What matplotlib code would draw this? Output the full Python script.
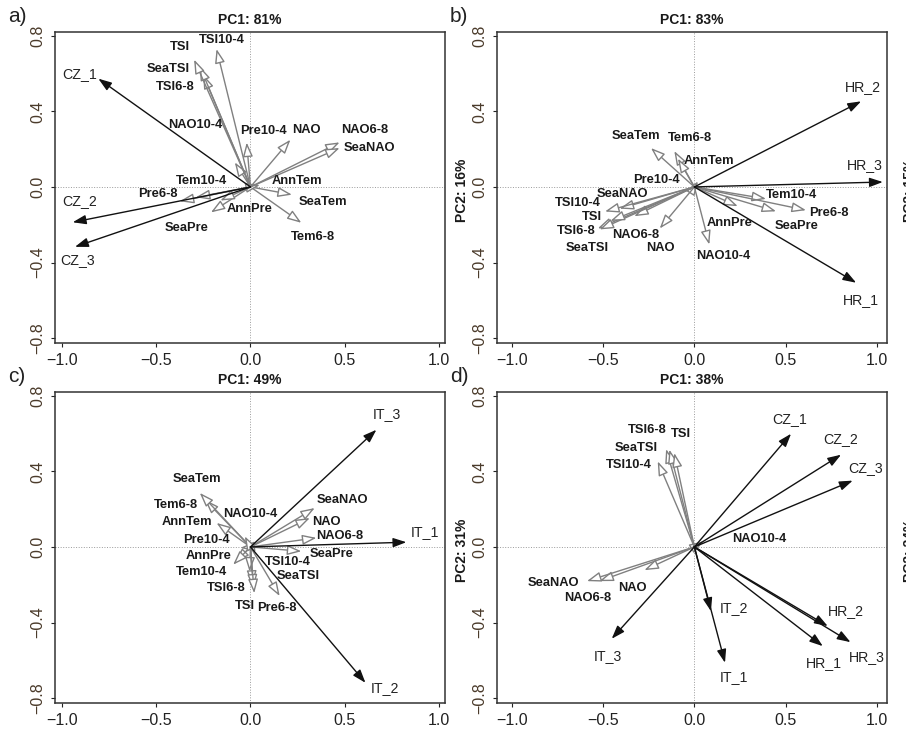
import numpy as np
import matplotlib
matplotlib.use('Agg')
import matplotlib.pyplot as plt
from matplotlib import font_manager

# fuentes: Arial estrecha si existe
nombres = set(f.name for f in font_manager.fontManager.ttflist)
if 'Liberation Sans Narrow' in nombres:
    ETIQ = 'Liberation Sans Narrow'
    esc = 1.0
else:
    ETIQ = 'Liberation Sans'
    esc = 0.88
plt.rcParams['font.family'] = ['Liberation Sans', 'DejaVu Sans']

"""
Datos: cargas de los ejes (PC1, PC2) para cada panel
"""

# panel a) CZ
a_exp = ['Tem10-4', 'Tem6-8', 'SeaTem', 'AnnTem', 'Pre10-4', 'Pre6-8', 'SeaPre', 'AnnPre',
         'NAO10-4', 'NAO6-8', 'SeaNAO', 'NAO', 'TSI10-4', 'TSI6-8', 'SeaTSI', 'TSI']
a_exp_x = [-0.29, 0.27, 0.22, 0.05, -0.02, -0.375, -0.21, -0.16,
           -0.083, 0.473, 0.473, 0.212, -0.18, -0.251, -0.269, -0.299]
a_exp_y = [-0.055, -0.19, -0.041, 0.01, 0.235, -0.076, -0.135, -0.072,
           0.13, 0.236, 0.206, 0.25, 0.73, 0.594, 0.638, 0.674]
a_resp = ['CZ_1', 'CZ_2', 'CZ_3']
a_resp_x = [-0.807, -0.943, -0.931]
a_resp_y = [0.573, -0.187, -0.317]

# panel b) HR
b_exp = a_exp
b_exp_x = [0.393, -0.11, -0.238, -0.09, 0.02, 0.612, 0.448, 0.238,
           0.082, -0.33, -0.41, -0.19, -0.49, -0.53, -0.52, -0.46]
b_exp_y = [-0.063, 0.19, 0.206, 0.15, 0.03, -0.123, -0.129, -0.102,
           -0.305, -0.155, -0.115, -0.22, -0.13, -0.22, -0.225, -0.18]
b_resp = ['HR_1', 'HR_2', 'HR_3']
b_resp_x = [0.887, 0.914, 1.033]
b_resp_y = [-0.507, 0.453, 0.026]

# panel c) IT
c_exp = a_exp
c_exp_x = [-0.08, -0.242, -0.269, -0.18, -0.053, 0.155, 0.27, -0.092,
           -0.03, 0.35, 0.341, 0.315, -0.005, 0.01, 0.015, 0.02]
c_exp_y = [-0.08, 0.25, 0.286, 0.127, -0.005, -0.26, -0.023, -0.094,
           0.056, 0.048, 0.206, 0.153, -0.13, -0.2, -0.22, -0.245]
c_resp = ['IT_1', 'IT_2', 'IT_3']
c_resp_x = [0.827, 0.61, 0.668]
c_resp_y = [0.025, -0.719, 0.62]

# panel d) todos
d_exp = ['NAO10-4', 'NAO6-8', 'SeaNAO', 'NAO', 'TSI10-4', 'TSI6-8', 'SeaTSI', 'TSI']
d_exp_x = [0.05, -0.521, -0.589, -0.274, -0.201, -0.155, -0.137, -0.11]
d_exp_y = [0.03, -0.181, -0.181, -0.123, 0.453, 0.518, 0.515, 0.497]
d_resp = ['CZ_1', 'CZ_2', 'CZ_3', 'HR_1', 'HR_2', 'HR_3', 'IT_1', 'IT_2', 'IT_3']
d_resp_x = [0.53, 0.804, 0.868, 0.704, 0.731, 0.856, 0.168, 0.091, -0.453]
d_resp_y = [0.599, 0.488, 0.351, -0.525, -0.419, -0.504, -0.613, -0.34, -0.486]

pc1 = ['PC1: 81%', 'PC1: 83%', 'PC1: 49%', 'PC1: 38%']
pc2 = [None, 'PC2: 16%', None, 'PC2: 31%']
pc2_cortado = [None, 'PC2: 15%', None, 'PC2: 24%']
letras = ['a)', 'b)', 'c)', 'd)']

# posiciones de las etiquetas (colocación manual)
pos_a = {'Tem10-4': (-0.26, 0.034), 'Tem6-8': (0.332, -0.265), 'SeaTem': (0.385, -0.079),
         'AnnTem': (0.244, 0.03), 'Pre10-4': (0.067, 0.294), 'Pre6-8': (-0.489, -0.035),
         'SeaPre': (-0.339, -0.217), 'AnnPre': (-0.007, -0.116), 'NAO10-4': (-0.295, 0.33),
         'NAO6-8': (0.606, 0.303), 'SeaNAO': (0.633, 0.206), 'NAO': (0.297, 0.303),
         'TSI10-4': (-0.154, 0.776), 'TSI6-8': (-0.401, 0.529), 'SeaTSI': (-0.436, 0.624),
         'TSI': (-0.375, 0.739),
         'CZ_1': (-0.905, 0.6), 'CZ_2': (-0.905, -0.076), 'CZ_3': (-0.919, -0.388)}
pos_b = {'Tem10-4': (0.53, -0.041), 'Tem6-8': (-0.024, 0.259), 'SeaTem': (-0.32, 0.271),
         'AnnTem': (0.082, 0.139), 'Pre10-4': (-0.21, 0.039), 'Pre6-8': (0.74, -0.137),
         'SeaPre': (0.558, -0.208), 'AnnPre': (0.192, -0.19), 'NAO10-4': (0.161, -0.367),
         'NAO6-8': (-0.32, -0.252), 'SeaNAO': (-0.393, -0.035), 'NAO': (-0.186, -0.322),
         'TSI10-4': (-0.64, -0.085), 'TSI6-8': (-0.649, -0.234), 'SeaTSI': (-0.585, -0.322),
         'TSI': (-0.561, -0.159),
         'HR_1': (0.914, -0.596), 'HR_2': (0.923, 0.529), 'HR_3': (0.932, 0.118)}
pos_c = {'Tem10-4': (-0.26, -0.134), 'Tem6-8': (-0.398, 0.224), 'SeaTem': (-0.283, 0.359),
         'AnnTem': (-0.339, 0.13), 'Pre10-4': (-0.233, 0.039), 'Pre6-8': (0.138, -0.322),
         'SeaPre': (0.429, -0.035), 'AnnPre': (-0.224, -0.049), 'NAO10-4': (0.0, 0.174),
         'NAO6-8': (0.473, 0.06), 'SeaNAO': (0.488, 0.247), 'NAO': (0.403, 0.13),
         'TSI10-4': (0.2, -0.081), 'TSI6-8': (-0.131, -0.218), 'SeaTSI': (0.253, -0.155),
         'TSI': (-0.03, -0.31),
         'IT_1': (0.924, 0.078), 'IT_2': (0.712, -0.745), 'IT_3': (0.721, 0.703)}
pos_d = {'NAO10-4': (0.356, 0.042), 'NAO6-8': (-0.585, -0.27), 'SeaNAO': (-0.771, -0.19),
         'NAO': (-0.338, -0.217), 'TSI10-4': (-0.362, 0.435), 'TSI6-8': (-0.256, 0.617),
         'SeaTSI': (-0.32, 0.523), 'TSI': (-0.073, 0.599),
         'CZ_1': (0.521, 0.677), 'CZ_2': (0.804, 0.571), 'CZ_3': (0.941, 0.418),
         'HR_1': (0.709, -0.613), 'HR_2': (0.832, -0.34), 'HR_3': (0.947, -0.581),
         'IT_1': (0.219, -0.687), 'IT_2': (0.219, -0.322), 'IT_3': (-0.475, -0.578)}

paneles = [
    (a_exp, a_exp_x, a_exp_y, a_resp, a_resp_x, a_resp_y, pos_a),
    (b_exp, b_exp_x, b_exp_y, b_resp, b_resp_x, b_resp_y, pos_b),
    (c_exp, c_exp_x, c_exp_y, c_resp, c_resp_x, c_resp_y, pos_c),
    (d_exp, d_exp_x, d_exp_y, d_resp, d_resp_x, d_resp_y, pos_d),
]

W, H = 906, 729
fig = plt.figure(figsize=(W/100, H/100), dpi=100)

# cajas en pixeles: (izq, der, arriba, abajo)
cajas = [(55, 445, 32, 343), (497, 887, 32, 343), (55, 445, 392, 703), (497, 887, 392, 703)]
xlims = [(-1.037, 1.032), (-1.082, 1.056), (-1.037, 1.032), (-1.082, 1.056)]
ylim = (-0.826, 0.82)

gris = '#808080'
col_tick_y = '#4a3a2a'

for k in range(4):
    iz, de, ar, ab = cajas[k]
    ax = fig.add_axes([iz/W, (H-ab)/H, (de-iz)/W, (ab-ar)/H])
    ax.set_xlim(*xlims[k])
    ax.set_ylim(*ylim)
    ax.axhline(0, color='#9a9a9a', lw=0.7, ls=':', zorder=0)
    ax.axvline(0, color='#9a9a9a', lw=0.7, ls=':', zorder=0)

    exp, ex, ey, resp, rx, ry, pos = paneles[k]
    for i in range(len(exp)):
        ax.annotate('', xy=(ex[i], ey[i]), xytext=(0, 0),
                    arrowprops=dict(arrowstyle='-|>,head_length=0.85,head_width=0.3',
                                    mutation_scale=10, lw=1.0, edgecolor=gris,
                                    facecolor='white', shrinkA=0, shrinkB=0), zorder=2)
        lx, ly = pos[exp[i]]
        ax.text(lx, ly, exp[i], family=[ETIQ, 'DejaVu Sans'], fontweight='bold',
                fontsize=10.5*esc, color='#1a1a1a', ha='center', va='center', zorder=4)
    for i in range(len(resp)):
        ax.annotate('', xy=(rx[i], ry[i]), xytext=(0, 0),
                    arrowprops=dict(arrowstyle='-|>,head_length=0.8,head_width=0.28',
                                    mutation_scale=10, lw=1.0, color='#111111',
                                    shrinkA=0, shrinkB=0), zorder=3)
        lx, ly = pos[resp[i]]
        ax.text(lx, ly, resp[i], family=[ETIQ, 'DejaVu Sans'], fontsize=11.6*esc,
                color='#222222', ha='center', va='center', zorder=4)

    ax.set_xticks([-1.0, -0.5, 0.0, 0.5, 1.0])
    ax.set_yticks([-0.8, -0.4, 0.0, 0.4, 0.8])
    ax.set_xticklabels(['\u22121.0', '\u22120.5', '0.0', '0.5', '1.0'])
    ax.set_yticklabels(['\u22120.8', '\u22120.4', '0.0', '0.4', '0.8'],
                       rotation=90, va='center')
    ax.tick_params(axis='x', length=3, width=0.8, pad=4, labelsize=11.5, colors='#222222')
    ax.tick_params(axis='y', length=3, width=0.8, pad=4, labelsize=11.5, colors='#222222',
                   labelcolor=col_tick_y)
    for s in ax.spines.values():
        s.set_linewidth(1.1)
        s.set_color('#333333')

    ax.set_title(pc1[k], fontsize=10, fontweight='bold', pad=6, color='#1a1a1a')

    # letra del panel y etiquetas PC2
    fig.text((iz - 38)/W, 1 - (ar - 15)/H, letras[k], fontsize=15, ha='center',
             va='center', color='#222222')
    if pc2[k] is not None:
        fig.text((iz - 35)/W, 1 - (ar + 158)/H, pc2[k], fontsize=10, fontweight='bold',
                 rotation=90, ha='center', va='center', color='#1a1a1a')
        # etiqueta del panel vecino, recortada en el borde como en la figura original
        fig.text(910/W, 1 - (ar + 158)/H, pc2_cortado[k], fontsize=10, fontweight='bold',
                 rotation=90, ha='center', va='center', color='#1a1a1a')

fig.savefig('out.png', dpi=100)
